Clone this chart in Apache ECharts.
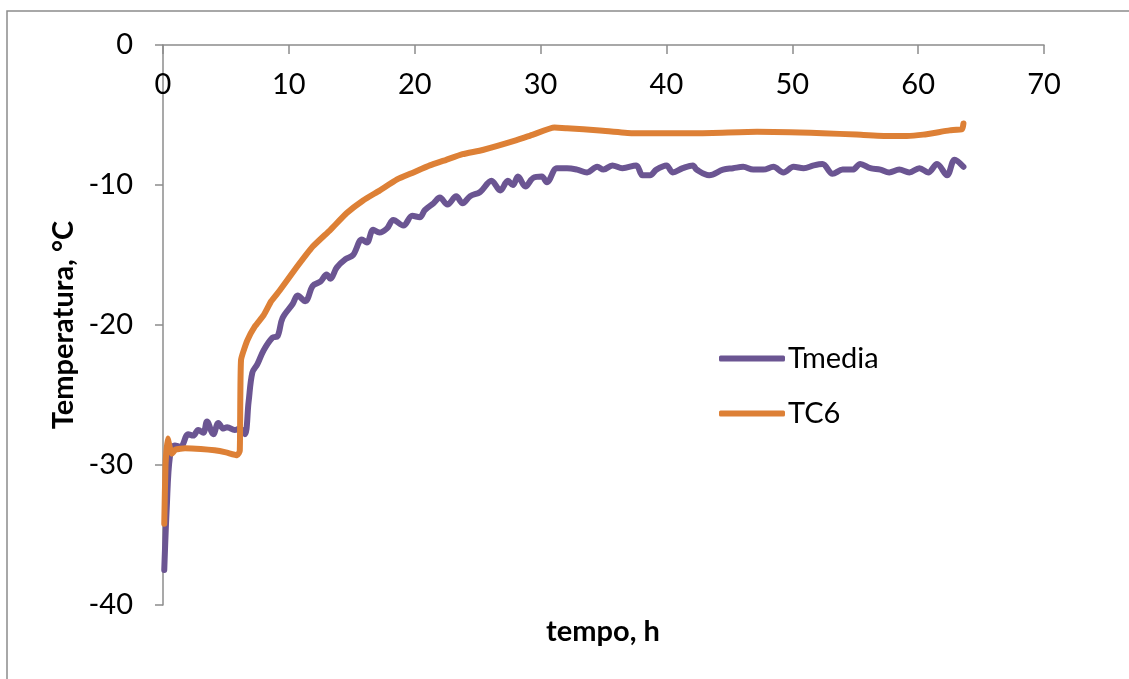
<!DOCTYPE html>
<html>
<head>
<meta charset="utf-8">
<script src="https://cdn.jsdelivr.net/npm/echarts@6/dist/echarts.min.js"></script>
<style>
html,body{margin:0;padding:0;background:#fff;}
#c{width:1129px;height:679px;}
</style>
</head>
<body>
<div id="c"></div>
<script>
// ---- data ----
var xTicks = [0, 10, 20, 30, 40, 50, 60, 70];
var yTicks = [-40, -30, -20, -10, 0];
var seriesNames = ['Tmedia', 'TC6'];

var tmediaTime = [0.1,0.3,0.55,0.95,1.4,2.0,2.4,2.8,3.2,3.5,4.0,4.4,4.8,5.1,5.7,6.1,6.5,6.8,7.1,7.5,8.0,8.7,9.1,9.5,10.3,10.7,11.3,11.9,12.5,13.0,13.3,13.8,14.5,15.1,15.8,16.2,16.7,17.2,17.8,18.3,19.1,19.8,20.4,20.8,21.5,22.0,22.6,23.3,23.8,24.4,25.2,26.1,26.8,27.4,27.8,28.2,28.8,29.4,30.1,30.5,31.3,32.1,32.9,33.7,34.5,35.0,35.7,36.5,37.6,38.1,38.7,39.2,40.0,40.5,41.3,42.1,42.4,43.4,44.5,45.3,46.1,46.9,47.7,48.5,49.3,50.1,50.9,51.7,52.4,53.2,54.0,54.8,55.4,56.2,57.0,57.7,58.5,59.3,60.1,60.8,61.5,62.3,62.9,63.6];
var tmediaTemp = [-37.5,-33.0,-29.4,-28.6,-28.7,-27.8,-27.9,-27.5,-27.7,-26.9,-27.8,-27.0,-27.4,-27.3,-27.5,-27.4,-27.8,-25.5,-23.4,-22.8,-21.8,-20.9,-20.8,-19.5,-18.5,-17.9,-18.3,-17.2,-16.9,-16.4,-16.7,-15.9,-15.3,-15.0,-13.9,-14.1,-13.2,-13.4,-13.1,-12.5,-12.9,-12.2,-12.3,-11.8,-11.3,-10.9,-11.4,-10.8,-11.3,-10.8,-10.5,-9.7,-10.4,-9.7,-10.0,-9.4,-10.1,-9.5,-9.4,-9.8,-8.8,-8.8,-8.9,-9.1,-8.7,-8.9,-8.6,-8.8,-8.6,-9.3,-9.3,-8.9,-8.6,-9.1,-8.8,-8.6,-8.9,-9.3,-8.9,-8.8,-8.7,-8.9,-8.9,-8.7,-9.1,-8.7,-8.8,-8.6,-8.5,-9.2,-8.9,-8.9,-8.5,-8.8,-8.9,-9.1,-8.9,-9.1,-8.8,-9.1,-8.5,-9.3,-8.2,-8.7];

var tc6Time = [0.1,0.2,0.37,0.7,1.0,1.75,3.0,4.1,5.0,5.9,6.1,6.2,6.7,7.3,8.0,8.6,9.3,10.6,11.9,13.3,14.6,15.9,17.2,18.6,19.9,21.2,22.5,23.8,25.4,28.1,29.4,31.1,32.1,34.7,37.3,40.0,42.6,47.2,52.4,55.1,57.7,59.1,60.4,62.5,63.5,63.6];
var tc6Temp = [-34.2,-30.0,-28.1,-29.2,-28.9,-28.8,-28.85,-28.95,-29.1,-29.3,-29.0,-22.5,-21.1,-20.1,-19.3,-18.3,-17.5,-15.9,-14.4,-13.2,-12.0,-11.1,-10.4,-9.6,-9.1,-8.6,-8.2,-7.8,-7.5,-6.8,-6.4,-5.9,-5.95,-6.1,-6.3,-6.3,-6.3,-6.2,-6.3,-6.4,-6.5,-6.5,-6.4,-6.1,-6.0,-5.6];

var xTitle = 'tempo, h';
var yTitle = 'Temperatura, °C';

function zip(a, b) { return a.map(function (v, i) { return [v, b[i]]; }); }

var FONT = 'Lato';
var FS = 29;
var AX = '#8c8c8c';
var COLORS = ['#6b5592', '#dd8036'];
var chart = echarts.init(document.getElementById('c'), null, {renderer: 'canvas'});
chart.setOption({
  animation: false,
  backgroundColor: '#ffffff',
  textStyle: {fontFamily: FONT},
  grid: {left: 163, right: 85, top: 45, bottom: 74, containLabel: false},
  legend: {
    orient: 'vertical',
    left: 714, top: 339,
    icon: 'roundRect',
    itemWidth: 66, itemHeight: 6, itemGap: 26,
    textStyle: {fontFamily: FONT, fontSize: FS, color: '#000', padding: [0, 0, 0, -2]},
    data: seriesNames
  },
  xAxis: {
    type: 'value', min: xTicks[0], max: xTicks[xTicks.length - 1], interval: 10,
    position: 'top',
    axisLine: {onZero: false, lineStyle: {color: AX, width: 1.5}},
    axisTick: {show: true, inside: true, length: 9, lineStyle: {color: AX, width: 1.5}},
    axisLabel: {inside: true, fontFamily: FONT, fontSize: FS, color: '#000', margin: 25},
    splitLine: {show: false}
  },
  yAxis: {
    type: 'value', min: yTicks[0], max: yTicks[yTicks.length - 1], interval: 10,
    name: yTitle, nameLocation: 'middle', nameGap: 78, nameRotate: 90,
    nameTextStyle: {fontFamily: FONT, fontSize: FS, fontWeight: 'bold', color: '#000'},
    axisLine: {show: true, onZero: false, lineStyle: {color: AX, width: 1.5}},
    axisTick: {show: true, inside: false, length: 8, lineStyle: {color: AX, width: 1.5}},
    axisLabel: {fontFamily: FONT, fontSize: FS, color: '#000', margin: 30},
    splitLine: {show: false}
  },
  graphic: [
    {type: 'rect', silent: true, shape: {x: 7, y: 11, width: 1300, height: 900},
     style: {fill: 'none', stroke: AX, lineWidth: 1.5}, z: 0},
    {type: 'text', silent: true, x: 603, y: 632,
     style: {text: xTitle, fontFamily: FONT, fontSize: FS, fontWeight: 'bold', fill: '#000',
             align: 'center', verticalAlign: 'middle'}}
  ],
  series: [
    {name: seriesNames[0], type: 'line', data: zip(tmediaTime, tmediaTemp),
     showSymbol: false, symbol: 'none', smooth: 0.35,
     lineStyle: {color: COLORS[0], width: 6, cap: 'round', join: 'round'},
     itemStyle: {color: COLORS[0]}, z: 3},
    {name: seriesNames[1], type: 'line', data: zip(tc6Time, tc6Temp),
     showSymbol: false, symbol: 'none', smooth: 0.15,
     lineStyle: {color: COLORS[1], width: 6, cap: 'round', join: 'round'},
     itemStyle: {color: COLORS[1]}, z: 4}
  ]
});
</script>
</body>
</html>
